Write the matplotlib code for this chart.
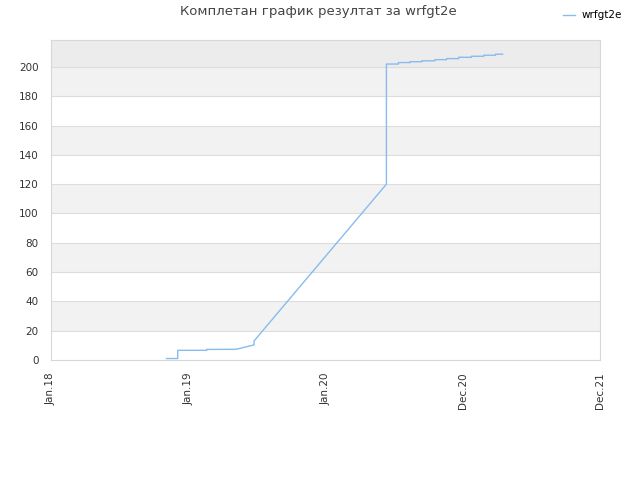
import matplotlib
matplotlib.use("Agg")
import matplotlib.pyplot as plt
import matplotlib.dates as mdates
import numpy as np
from datetime import datetime, timedelta

title = "Комплетан график резултат за wrfgt2e"
series_name = "wrfgt2e"

dates = ["2018-11-04", "2018-12-04", "2018-12-04", "2019-02-19", "2019-02-19",
         "2019-05-08", "2019-06-25", "2019-06-25", "2020-06-11", "2020-06-11",
         "2020-07-13", "2020-07-13", "2020-08-13", "2020-08-13", "2020-09-13",
         "2020-09-13", "2020-10-18", "2020-10-18", "2020-11-18", "2020-11-18",
         "2020-12-20", "2020-12-20", "2021-01-23", "2021-01-23", "2021-02-25",
         "2021-02-25", "2021-03-28", "2021-03-28", "2021-04-16"]
values = [1, 1, 6.6, 6.6, 7.2,
          7.3, 10.3, 13, 120, 202,
          202, 203, 203, 203.6, 203.6,
          204.2, 204.2, 205, 205, 205.7,
          205.7, 206.6, 206.6, 207.3, 207.3,
          208, 208, 208.7, 208.7]

tick_dates = ["2018-01-01", "2019-01-01", "2020-01-01", "2020-12-31", "2021-12-31"]
tick_labels = ["Jan.18", "Jan.19", "Jan.20", "Dec.20", "Dec.21"]
y_ticks = list(range(0, 201, 20))

x = [datetime.strptime(d, "%Y-%m-%d") for d in dates]
xt = [datetime.strptime(d, "%Y-%m-%d") for d in tick_dates]

fig = plt.figure(figsize=(6.4, 4.8), dpi=100)
ax = fig.add_axes([51/640, 1-360/480, 549/640, 320/480])

ymax = 218.4
ax.set_xlim(xt[0], xt[-1])
ax.set_ylim(0, ymax)

# background bands
for i, lo in enumerate(range(0, 200, 20)):
    if i % 2 == 1:
        ax.axhspan(lo, lo + 20, color="#f2f2f2", zorder=0, lw=0)
ax.axhspan(200, ymax, color="#ececec", zorder=0, lw=0)
for yv in y_ticks[1:]:
    ax.axhline(yv, color="#dddddd", lw=0.8, zorder=1)

ax.plot(x, values, color="#88bbee", lw=1.0, zorder=3, label=series_name)

ax.set_xticks(xt)
ax.set_xticklabels(tick_labels, rotation=90, fontsize=7.5, color="#333333")
ax.set_yticks(y_ticks)
ax.set_yticklabels([str(v) for v in y_ticks], fontsize=7.5, color="#333333")
ax.tick_params(axis="both", length=0)
ax.tick_params(axis="y", pad=9)
ax.tick_params(axis="x", pad=9)
for s in ax.spines.values():
    s.set_color("#d8d8d8")
    s.set_linewidth(0.8)

fig.text(0.497, 1-12/480, title, ha="center", va="center", fontsize=9.5, color="#444444")
fig.legend(loc="upper right", bbox_to_anchor=(0.986, 0.998), frameon=False,
           fontsize=7.5, handlelength=1.2, handletextpad=0.6)

fig.savefig("out.png", dpi=100)
